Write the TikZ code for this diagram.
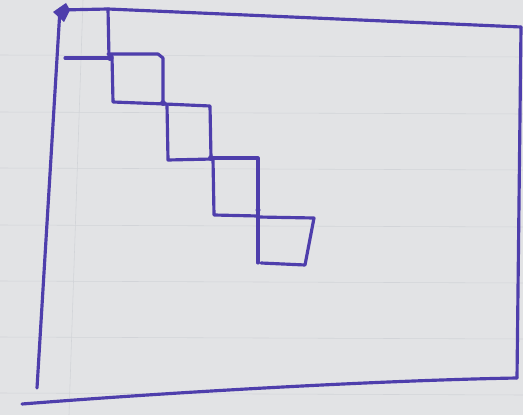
\documentclass[tikz,border=0pt]{standalone}
\usetikzlibrary{arrows.meta}
\definecolor{ink}{RGB}{78,62,172}
\definecolor{paper}{RGB}{226,227,229}
\definecolor{rule}{RGB}{210,212,216}
\begin{document}
\begin{tikzpicture}[x=0.5mm,y=-0.5mm,line cap=round,line join=round]
\fill[paper] (0,0) rectangle (523,415);
\useasboundingbox (0,0) rectangle (523,415);

% 横线纸的底纹
\foreach \y in {55,112,168,225,281,337,393}
  \draw[rule,line width=0.8pt] (0,\y) -- (523,\y+2);
\draw[rule,line width=0.8pt] (83,0) -- (69,415);

\tikzset{pen/.style={ink,line width=4.5pt}}

% 外框
\coordinate (TL) at (60,9);
\coordinate (TR) at (521,27);
\coordinate (BR) at (517,378);
\coordinate (BL) at (37,388);
\coordinate (BE) at (22,404);       % 底边向左伸出

\draw[pen] (TR)--(BR);
\draw[pen] (TL)--(BL);
\draw[pen] (BE) .. controls (200,390) and (400,380) .. (BR);
\draw[pen] (TR)--(108,9)--(60,10);
\fill[ink] (53,12) -- (66,3) -- (70,10) -- (64,22) -- cycle;   % 左上角的箭头

% 阶梯上的方格
\draw[pen] (108,9)--(109,58);
\draw[pen] (65,58)--(112,58);

\draw[pen] (108,54)--(158,54)--(163,58)--(163,103);
\draw[pen] (112,56)--(113,102)--(165,104);

\draw[pen] (165,104)--(210,106)--(211,158);
\draw[pen] (167,105)--(168,160)--(213,159);

\draw[pen] (213,158)--(258,158)--(258,215);
\draw[pen] (213,159)--(214,215)--(258,216);

\draw[pen] (258,216)--(258,263);
\draw[pen] (258,217)--(314,218)--(305,265)--(261,263);

\fill[ink] (110,58) circle (3);
\fill[ink] (163,103) circle (3);
\fill[ink] (211,158) circle (3);
\fill[ink] (258,210) circle (2.5);
\end{tikzpicture}
\end{document}
